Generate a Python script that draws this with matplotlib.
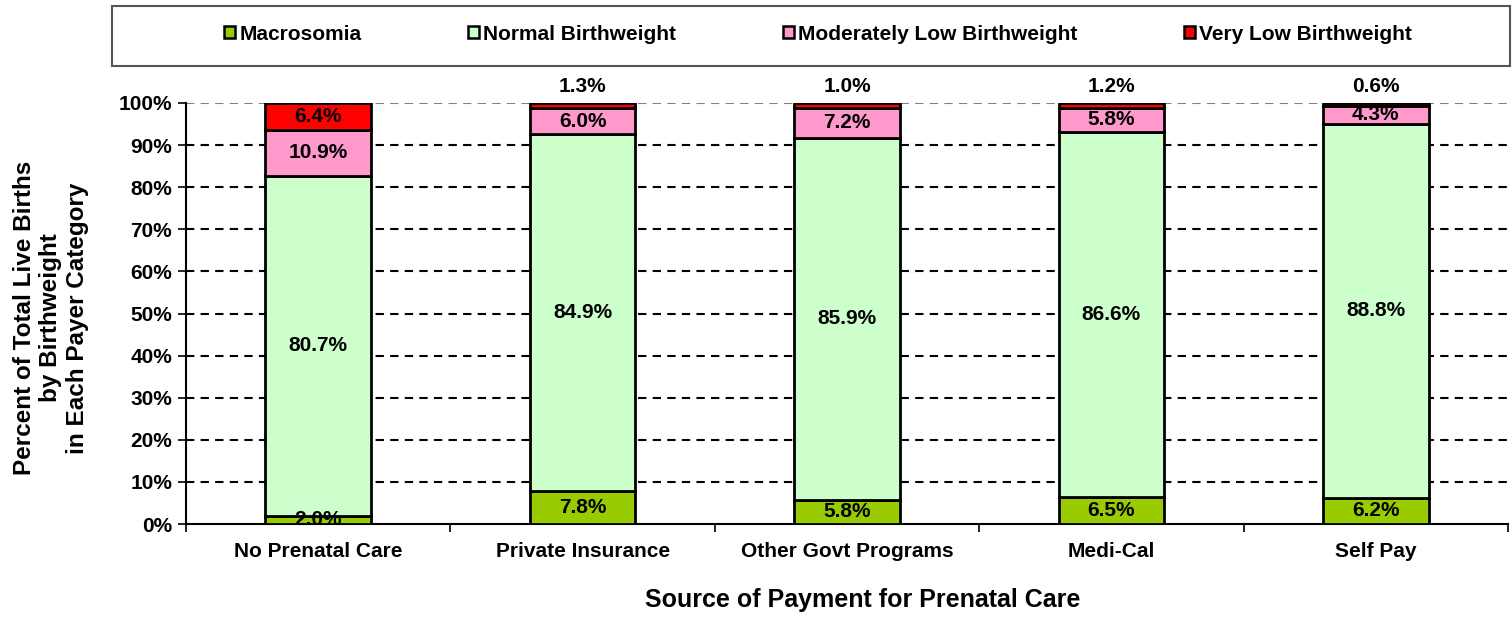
import matplotlib
matplotlib.use("Agg")
import matplotlib.pyplot as plt
from matplotlib.patches import Rectangle, Patch
import numpy as np

plt.rcParams['font.family'] = ['Liberation Sans', 'DejaVu Sans']
plt.rcParams['font.weight'] = 'bold'

categories = ["No Prenatal Care", "Private Insurance", "Other Govt Programs", "Medi-Cal", "Self Pay"]
series_names = ["Macrosomia", "Normal Birthweight", "Moderately Low Birthweight", "Very Low Birthweight"]
macrosomia = [2.0, 7.8, 5.8, 6.5, 6.2]
normal = [80.7, 84.9, 85.9, 86.6, 88.8]
mod_low = [10.9, 6.0, 7.2, 5.8, 4.3]
very_low = [6.4, 1.3, 1.0, 1.2, 0.6]
colors = ["#99CC00", "#CCFFCC", "#FF99CC", "#FF0000"]
yticks = [0, 10, 20, 30, 40, 50, 60, 70, 80, 90, 100]

FS = 15

fig = plt.figure(figsize=(15.12, 6.34), dpi=100)
ax = fig.add_axes([186/1512, 1-524/634, 1322/1512, 421/634])

x = np.arange(len(categories))
series = [macrosomia, normal, mod_low, very_low]
bottom = np.zeros(len(categories))
for si, (vals, col) in enumerate(zip(series, colors)):
    vals = np.array(vals)
    ax.bar(x, vals, bottom=bottom, width=0.4, color=col, edgecolor='black', linewidth=2, zorder=3)
    for i, v in enumerate(vals):
        if si == 3 and i > 0:
            ax.text(x[i], 103.9, f"{v:.1f}%", ha='center', va='center', fontsize=FS,
                    fontweight='bold', clip_on=False)
        else:
            ax.text(x[i], bottom[i] + v/2, f"{v:.1f}%", ha='center', va='center', fontsize=FS,
                    fontweight='bold', zorder=5)
    bottom += vals

ax.set_xlim(-0.5, len(categories) - 0.5)
ax.set_ylim(0, 100)
ax.set_yticks(yticks)
ax.set_yticklabels([f"{t}%" for t in yticks], fontsize=FS, fontweight='bold')
for t in yticks[1:]:
    ax.axhline(t, color='black' if t < 100 else '#808080', linestyle=(0, (4, 3)), linewidth=1.5, zorder=1)

ax.set_xticks(x)
ax.set_xticklabels(categories, fontsize=FS, fontweight='bold')
ax.tick_params(axis='x', which='major', length=0, pad=13)
ax.set_xticks(np.arange(-0.5, len(categories), 1), minor=True)
ax.tick_params(axis='x', which='minor', length=6, width=1.2, direction='out')
ax.tick_params(axis='y', length=6, width=1.2, direction='out', pad=4)

for s in ['top', 'right']:
    ax.spines[s].set_visible(False)
for s in ['left', 'bottom']:
    ax.spines[s].set_linewidth(1.5)

fig.text(863/1512, 1-600/634, "Source of Payment for Prenatal Care", ha='center', va='center',
         fontsize=18, fontweight='bold')
fig.text(51/1512, 1-318/634, "Percent of Total Live Births\nby Birthweight\nin Each Payer Category",
         rotation=90, ha='center', va='center', fontsize=17.5, fontweight='bold', linespacing=1.22)

# legend box
fig.patches.append(Rectangle((112/1512, 1-66/634), 1398/1512, 60/634, transform=fig.transFigure,
                             facecolor='white', edgecolor='#555555', linewidth=1.5))
handles = [Patch(facecolor=c, edgecolor='black', linewidth=1.8) for c in colors]
fig.legend(handles, series_names, loc='center', bbox_to_anchor=(818/1512, 1-34/634), ncol=4,
           frameon=False, handlelength=0.55, handleheight=0.55, handletextpad=0.2,
           columnspacing=5.1, prop={'weight': 'bold', 'size': FS})

fig.savefig("out.png", dpi=100)
